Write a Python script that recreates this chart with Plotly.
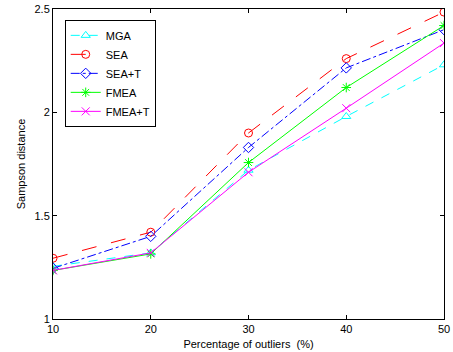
import plotly.graph_objects as go

x_vals = [10, 20, 30, 40, 50]
mga = [1.255, 1.32, 1.72, 1.98, 2.23]
sea = [1.294, 1.42, 1.90, 2.26, 2.485]
sea_t = [1.245, 1.40, 1.83, 2.215, 2.40]
fmea = [1.235, 1.315, 1.757, 2.12, 2.42]
fmea_t = [1.235, 1.32, 1.71, 2.02, 2.335]

series = [
    ("MGA", mga, "#00FFFF", "dash", "triangle-up-open"),
    ("SEA", sea, "#FF0000", "longdash", "circle-open"),
    ("SEA+T", sea_t, "#0000FF", "dashdot", "diamond-open"),
    ("FMEA", fmea, "#00FF00", "solid", "asterisk-open"),
    ("FMEA+T", fmea_t, "#FF00FF", "solid", "x-thin-open"),
]

fig = go.Figure()
for name, ys, color, dash, sym in series:
    fig.add_trace(go.Scatter(
        x=x_vals, y=ys, name=name, mode="lines+markers",
        line=dict(color=color, width=1, dash=dash),
        marker=dict(symbol=sym, size=8, color=color, line=dict(color=color, width=1)),
    ))

axis_common = dict(
    showgrid=False, zeroline=False, showline=True, linecolor="black", linewidth=1,
    mirror="ticks", ticks="inside", ticklen=4, tickcolor="black",
    tickfont=dict(family="Liberation Sans, Arial", size=11, color="black"),
)
fig.update_xaxes(range=[10, 50], tickvals=[10, 20, 30, 40, 50],
                 ticklabeloverflow="allow",
                 title=dict(text="Percentage of outliers  (%)", standoff=6,
                            font=dict(family="Liberation Sans, Arial", size=11, color="black")),
                 **axis_common)
fig.update_yaxes(range=[1, 2.5], tickvals=[1, 1.5, 2, 2.5], ticktext=["1", "1.5", "2", "2.5"],
                 title=dict(text="Sampson distance", standoff=6,
                            font=dict(family="Liberation Sans, Arial", size=11, color="black")),
                 **axis_common)

fig.update_layout(
    width=453, height=352,
    margin=dict(l=53, r=3, t=9, b=32),
    paper_bgcolor="white", plot_bgcolor="white",
    showlegend=True,
    legend=dict(x=0.03, y=0.965, xanchor="left", yanchor="top",
                bgcolor="white", bordercolor="black", borderwidth=1,
                font=dict(family="Liberation Sans, Arial", size=11, color="black"),
                tracegroupgap=0, itemwidth=30),
)

fig.write_html("out.html")
